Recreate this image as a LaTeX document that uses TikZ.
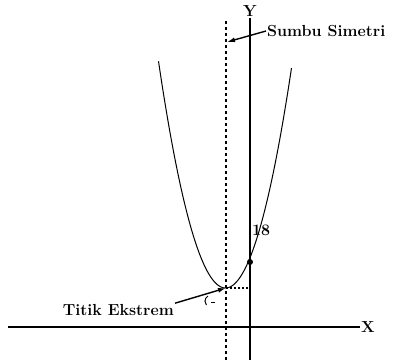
\documentclass[tikz,border=0pt]{standalone}
\usetikzlibrary{arrows.meta}
\begin{document}
\begin{tikzpicture}[x=1pt, y=-1pt, >={Latex[length=8pt,width=5pt]}, font=\fontsize{16}{18}\selectfont\bfseries]
    \useasboundingbox (0,0) rectangle (396,360);
    \tikzset{axis/.style={line width=2pt}, guide/.style={line width=2pt, dash pattern=on 3.5pt off 2.5pt}}
    \coordinate (O) at (250,327);
    \coordinate (Xa) at (8,327);
    \coordinate (Xb) at (360,327);
    \coordinate (Ya) at (250,360);
    \coordinate (Yb) at (250,18);
    \coordinate (Sa) at (226,360);
    \coordinate (Sb) at (226,20);
    \coordinate (V) at (226,288);
    \coordinate (H) at (250,288);
    \node[anchor=west, inner sep=1pt] (X) at (Xb) {X};
    \node[anchor=south, inner sep=1pt] (Y) at (Yb) {Y};
    \node[anchor=west, inner sep=1pt] (SS) at (266,31) {Sumbu Simetri};
    \node[anchor=east, inner sep=1pt] (TE) at (175,310) {Titik Ekstrem};
    \node[anchor=south west, inner sep=1pt] (C) at (251,237) {18};
    \node[circle, fill, inner sep=0pt, minimum size=6pt] (P) at (250,262) {};
    
    \draw[axis] (Xa) -- (Xb);
    \draw[axis] (Ya) -- (Yb);
    \draw[guide] (Sa) -- (Sb);
    \draw[line width=1.2pt, dash pattern=on 2pt off 2pt] (V) -- (H);
    \draw[line width=1pt] plot[domain=-67:66, samples=80] ({225.5+\x},{288-0.0505*\x*\x});
    \path[->, line width=1.4pt] (SS.west) edge (227,42);
    \path[->, line width=1.4pt] (TE.north east) edge (V);
    \draw[line width=1pt] (208,296) arc[start angle=120, end angle=220, radius=6pt];
    \draw[line width=1pt] (211,302) -- (215,302);
\end{tikzpicture}
\end{document}
